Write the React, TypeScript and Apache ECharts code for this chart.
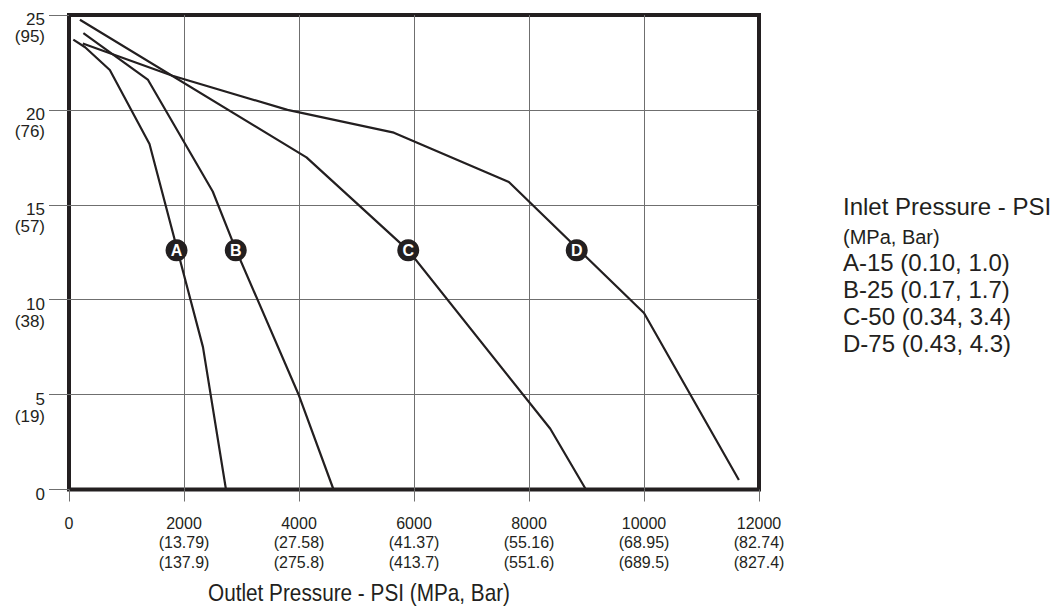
import React, { useEffect, useRef } from "react";
import * as echarts from "echarts";

// ---- data ----
const xTickValues = [0, 2000, 4000, 6000, 8000, 10000, 12000];
const xTickMpa = ["", "(13.79)", "(27.58)", "(41.37)", "(55.16)", "(68.95)", "(82.74)"];
const xTickBar = ["", "(137.9)", "(275.8)", "(413.7)", "(551.6)", "(689.5)", "(827.4)"];
const yTickValues = [0, 5, 10, 15, 20, 25];
const yTickSecondary = ["", "(19)", "(38)", "(57)", "(76)", "(95)"];

const curveA: [number, number][] = [[75, 23.7], [280, 23.3], [710, 22.1], [1400, 18.2], [2330, 7.5], [2730, 0]];
const curveB: [number, number][] = [[250, 24.05], [1370, 21.6], [2500, 15.7], [2900, 12.65], [4000, 4.95], [4600, 0]];
const curveC: [number, number][] = [[190, 24.75], [4130, 17.5], [5900, 12.6], [8370, 3.2], [8990, 0]];
const curveD: [number, number][] = [[240, 23.5], [1800, 21.8], [3800, 20.0], [5650, 18.8], [7650, 16.2], [10000, 9.3], [11650, 0.5]];

const markerLetters = ["A", "B", "C", "D"];
const markerX = [1870, 2900, 5900, 8830];
const markerY = [12.6, 12.6, 12.6, 12.6];

const legendTitle = "Inlet Pressure - PSI";
const legendSubtitle = "(MPa, Bar)";
const legendItems = ["A-15 (0.10, 1.0)", "B-25 (0.17, 1.7)", "C-50 (0.34, 3.4)", "D-75 (0.43, 4.3)"];
const xAxisTitle = "Outlet Pressure - PSI (MPa, Bar)";

const INK = "#231f20";
const GRID = "#6f6f6f";
const SANS = "'Liberation Sans', Arial, Helvetica, sans-serif";

export default function App() {
  const ref = useRef<HTMLDivElement>(null);

  useEffect(() => {
    if (!ref.current) return;
    const chart = echarts.init(ref.current, undefined, { renderer: "svg" });

    const lineSeries = [curveA, curveB, curveC, curveD].map((d, i) => ({
      type: "line",
      name: markerLetters[i],
      data: d,
      showSymbol: false,
      symbol: "none",
      lineStyle: { color: INK, width: 2.2 },
      z: 3,
    }));

    const graphics: any[] = [];
    graphics.push({
      type: "text", left: 843, top: 194,
      style: { text: legendTitle, font: `24px ${SANS}`, fill: INK },
    });
    graphics.push({
      type: "text", left: 843, top: 227,
      style: { text: legendSubtitle, font: `20px ${SANS}`, fill: INK },
    });
    legendItems.forEach((t, i) => {
      graphics.push({
        type: "text", left: 843, top: 250 + i * 27,
        style: { text: t, font: `24px ${SANS}`, fill: INK },
      });
    });
    graphics.push({
      type: "text", x: 359, y: 593, scaleX: 0.865,
      style: { text: xAxisTitle, font: `24px ${SANS}`, fill: INK, textAlign: "center", textVerticalAlign: "middle" },
    });

    chart.setOption({
      animation: false,
      backgroundColor: "#ffffff",
      grid: {
        left: 69, top: 15, right: 305, bottom: 121.5,
        show: true, borderColor: INK, borderWidth: 4, backgroundColor: "transparent",
        containLabel: false,
        outerBoundsMode: "none",
      },
      xAxis: {
        type: "value", min: 0, max: 12000, interval: 2000,
        axisLine: { show: false },
        axisTick: { show: true, length: 12, lineStyle: { color: GRID, width: 1 } },
        splitLine: { show: true, showMinLine: false, showMaxLine: false, lineStyle: { color: GRID, width: 1 } },
        axisLabel: {
          margin: 24, color: INK, fontFamily: SANS, fontSize: 16, lineHeight: 19.5,
          verticalAlign: "top",
          formatter: (v: number) => {
            const i = xTickValues.indexOf(v);
            if (i <= 0) return String(v);
            return `${v}\n${xTickMpa[i]}\n${xTickBar[i]}`;
          },
        },
      },
      yAxis: {
        type: "value", min: 0, max: 25, interval: 5,
        axisLine: { show: false },
        axisTick: { show: true, length: 20, lineStyle: { color: GRID, width: 1 } },
        splitLine: { show: true, showMinLine: false, showMaxLine: false, lineStyle: { color: GRID, width: 1 } },
        axisLabel: {
          margin: 24, color: INK, verticalAlign: "top",
          formatter: (v: number) => {
            const i = yTickValues.indexOf(v);
            const sec = i >= 0 ? yTickSecondary[i] : "";
            return sec ? `{a|${v}}\n{b|${sec}}` : `{a|${v}}`;
          },
          rich: {
            a: { fontFamily: SANS, fontSize: 17, lineHeight: 9, color: INK, align: "right" },
            b: { fontFamily: SANS, fontSize: 17, lineHeight: 25, color: INK, align: "right" },
          },
        },
      },
      series: [
        ...lineSeries,
        {
          type: "scatter",
          data: markerX.map((x, i) => [x, markerY[i], markerLetters[i]]),
          symbol: "circle",
          symbolSize: 22,
          itemStyle: { color: INK, opacity: 1 },
          label: {
            show: true, position: "inside",
            formatter: (p: any) => p.data[2],
            color: "#ffffff", fontFamily: SANS, fontSize: 16, fontWeight: "bold",
          },
          z: 5,
        },
      ],
      graphic: graphics,
    });

    return () => chart.dispose();
  }, []);

  return (
    <div
      ref={ref}
      style={{ position: "fixed", left: 0, top: 0, width: 1064, height: 611, background: "#fff" }}
    />
  );
}
